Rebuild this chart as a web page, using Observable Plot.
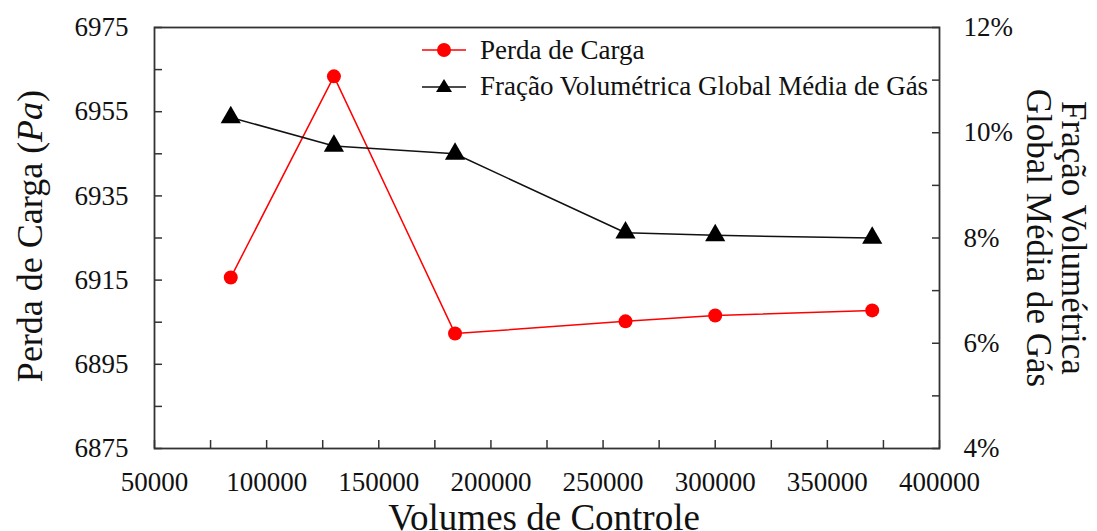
<!DOCTYPE html>
<html>
<head>
<meta charset="utf-8">
<script src="https://cdn.jsdelivr.net/npm/d3@7"></script>
<script src="https://cdn.jsdelivr.net/npm/@observablehq/plot@0.6"></script>
<style>
  html, body { margin: 0; padding: 0; background: #fff; }
  #wrap { position: relative; width: 1097px; height: 531px; overflow: hidden; font-family: "Liberation Serif", "Times New Roman", serif; color: #111; }
  .ttl { position: absolute; white-space: nowrap; line-height: 1; }
  #legend { position: absolute; left: 420px; top: 32px; font-size: 27px; }
  #legend .row { display: flex; align-items: center; height: 36px; }
  #legend svg { margin-right: 12px; }
</style>
</head>
<body>
<div id="wrap"></div>
<script>
// ---- data ----
const volumes = [84000, 130000, 184000, 260000, 300000, 370000];
const perdaCarga = [6915.6, 6963.4, 6902.3, 6905.2, 6906.6, 6907.8];
const fracaoGas = [10.29, 9.75, 9.6, 8.1, 8.05, 8.0]; // percent
const leftTicks = [6875, 6895, 6915, 6935, 6955, 6975];
const leftMinor = [6885, 6905, 6925, 6945, 6965];
const rightTicks = [4, 6, 8, 10, 12];
const rightMinor = [5, 7, 9, 11];
const xTicks = [50000, 100000, 150000, 200000, 250000, 300000, 350000, 400000];
const xMinor = [75000, 125000, 175000, 225000, 275000, 325000, 375000];
const seriesNames = ["Perda de Carga", "Fração Volumétrica Global Média de Gás"];

// map right-axis percent onto left scale domain
const yMin = 6875, yMax = 6975, pMin = 4, pMax = 12;
const toLeft = p => yMin + (p - pMin) * (yMax - yMin) / (pMax - pMin);
const toPct = v => Math.round(pMin + (v - yMin) * (pMax - pMin) / (yMax - yMin));

const perdaData = volumes.map((x, i) => ({x, y: perdaCarga[i]}));
const fracData = volumes.map((x, i) => ({x, y: toLeft(fracaoGas[i])}));

const plot = Plot.plot({
  width: 1097,
  height: 531,
  marginLeft: 154,
  marginRight: 158,
  marginTop: 27,
  marginBottom: 83,
  style: {fontFamily: "Liberation Serif, Times New Roman, serif", fontSize: "27px", color: "#111", background: "#fff"},
  x: {domain: [50000, 400000]},
  y: {domain: [yMin, yMax]},
  marks: [
    // left axis
    Plot.axisY(leftTicks, {anchor: "left", tickSize: 0, tickPadding: 26, label: null, fontSize: 27, tickFormat: d => String(d)}),
    Plot.axisY([...leftTicks, ...leftMinor], {anchor: "left", tickSize: -8, fill: "none", label: null, stroke: "#333", strokeWidth: 1.5}),
    // right axis
    Plot.axisY(rightTicks.map(toLeft), {anchor: "right", tickSize: 0, tickPadding: 24, label: null, fontSize: 27, tickFormat: d => toPct(d) + "%"}),
    Plot.axisY([...rightTicks, ...rightMinor].map(toLeft), {anchor: "right", tickSize: -8, fill: "none", label: null, stroke: "#333", strokeWidth: 1.5}),
    // x axis
    Plot.axisX(xTicks, {anchor: "bottom", tickSize: 0, tickPadding: 23, label: null, fontSize: 27, tickFormat: d => String(d)}),
    Plot.axisX([...xTicks, ...xMinor], {anchor: "bottom", tickSize: -8, fill: "none", label: null, stroke: "#333", strokeWidth: 1.5}),
    Plot.frame({stroke: "#333", strokeWidth: 1.8}),
    // series
    Plot.line(perdaData, {x: "x", y: "y", stroke: "#ff0000", strokeWidth: 1.5}),
    Plot.dot(perdaData, {x: "x", y: "y", r: 7, fill: "#ff0000", stroke: "none"}),
    Plot.line(fracData, {x: "x", y: "y", stroke: "#111", strokeWidth: 1.5}),
    Plot.dot(fracData, {x: "x", y: "y", r: 7.5, symbol: "triangle", fill: "#000", stroke: "none"})
  ]
});

const wrap = document.getElementById("wrap");
wrap.appendChild(plot);

// axis titles
const left = document.createElement("div");
left.className = "ttl";
left.style.cssText = "left:30px;top:236px;font-size:36px;transform:translate(-50%,-50%) rotate(-90deg);";
left.innerHTML = "Perda de Carga (<i>Pa</i>)";
wrap.appendChild(left);

const right = document.createElement("div");
right.className = "ttl";
right.style.cssText = "left:1056px;top:238px;font-size:35px;line-height:35px;text-align:center;transform:translate(-50%,-50%) rotate(90deg);";
right.innerHTML = "Fração Volumétrica<br>Global Média de Gás";
wrap.appendChild(right);

const bottom = document.createElement("div");
bottom.className = "ttl";
bottom.style.cssText = "left:544px;top:499px;font-size:37px;transform:translateX(-50%);";
bottom.textContent = "Volumes de Controle";
wrap.appendChild(bottom);

// legend
const legend = document.createElement("div");
legend.id = "legend";
legend.innerHTML = `
  <div class="row"><svg width="48" height="20"><line x1="2" y1="10" x2="46" y2="10" stroke="#ff0000" stroke-width="1.5"/><circle cx="24" cy="10" r="7" fill="#ff0000"/></svg><span>${seriesNames[0]}</span></div>
  <div class="row"><svg width="48" height="20"><line x1="2" y1="11" x2="46" y2="11" stroke="#111" stroke-width="1.5"/><path d="M24,3 L32,16 L16,16 Z" fill="#000"/></svg><span>${seriesNames[1]}</span></div>`;
wrap.appendChild(legend);
</script>
</body>
</html>
